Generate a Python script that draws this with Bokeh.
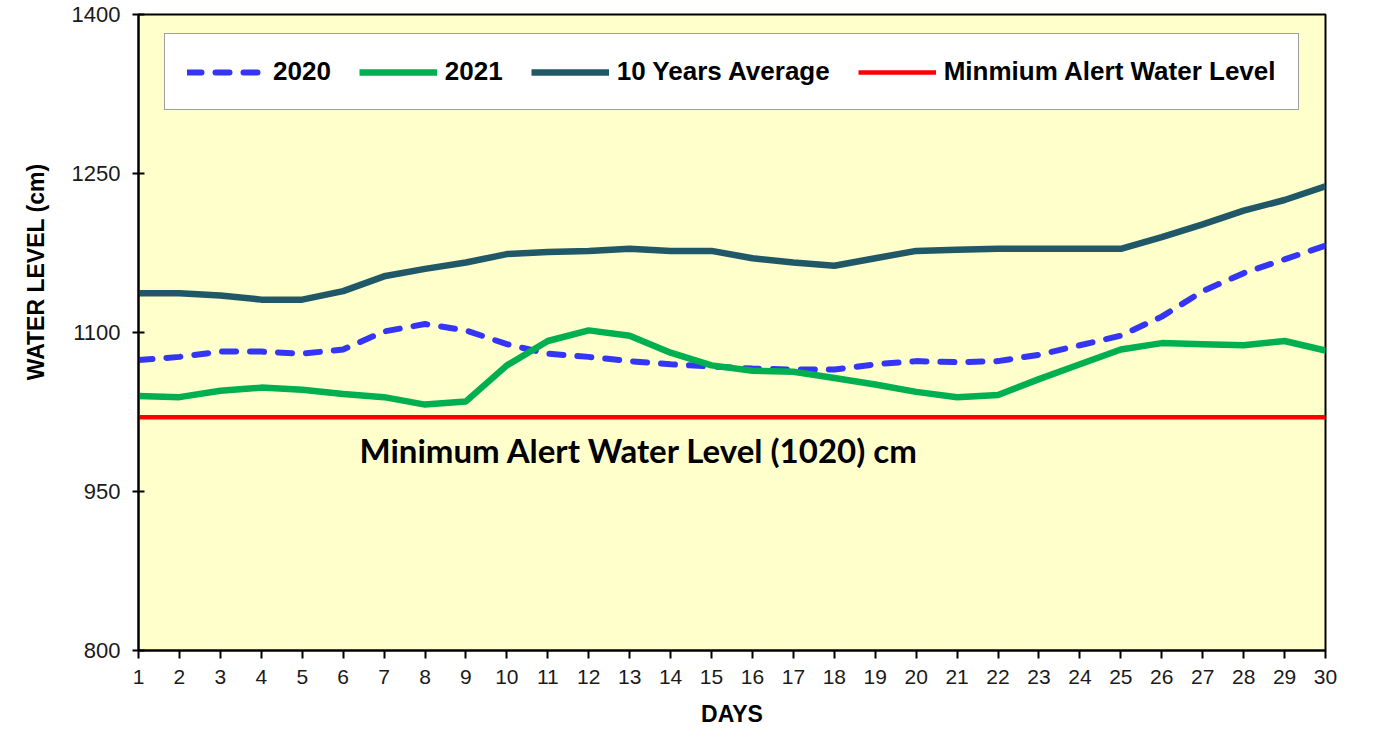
from bokeh.plotting import figure
from bokeh.models import Range1d, FixedTicker, Legend, LegendItem, Label, Title
from bokeh.embed import file_html
from bokeh.resources import INLINE

days = list(range(1, 31))
level_2020 = [1074, 1077, 1082, 1082, 1080, 1084, 1101, 1108, 1102, 1089,
              1080, 1077, 1073, 1070, 1068, 1066, 1065, 1065, 1070, 1073,
              1072, 1073, 1079, 1088, 1097, 1115, 1139, 1156, 1169, 1182]
level_2021 = [1040, 1039, 1045, 1048, 1046, 1042, 1039, 1032, 1035, 1069,
              1092, 1102, 1097, 1081, 1069, 1064, 1063, 1057, 1051, 1044,
              1039, 1041, 1056, 1070, 1084, 1090, 1089, 1088, 1092, 1083]
avg_10y = [1137, 1137, 1135, 1131, 1131, 1139, 1153, 1160, 1166, 1174,
           1176, 1177, 1179, 1177, 1177, 1170, 1166, 1163, 1170, 1177,
           1178, 1179, 1179, 1179, 1179, 1190, 1202, 1215, 1225, 1238]
alert_level = 1020
y_ticks = [800, 950, 1100, 1250, 1400]
series_names = ["2020", "2021", "10 Years Average", "Minmium Alert Water Level"]
annotation = "Minimum Alert Water  Level (1020) cm"
y_title = "WATER LEVEL (cm)"
x_title = "DAYS"

p = figure(width=1359, height=730, output_backend="svg", toolbar_location=None,
           x_range=Range1d(1, 30), y_range=Range1d(800, 1400),
           min_border_left=137, min_border_right=34, min_border_top=14,
           min_border_bottom=80)
p.background_fill_color = "#FFFFCC"
p.border_fill_color = "white"
p.outline_line_color = "black"
p.outline_line_width = 2
p.xgrid.visible = False
p.ygrid.visible = False

# axes
p.xaxis.ticker = FixedTicker(ticks=days)
p.yaxis.ticker = FixedTicker(ticks=y_ticks)
for ax in (p.xaxis, p.yaxis):
    ax.axis_line_color = "black"
    ax.axis_line_width = 2
    ax.major_tick_line_color = "black"
    ax.major_tick_line_width = 2
    ax.minor_tick_line_color = None
    ax.major_label_text_color = "#1a1a1a"
    ax.major_label_text_font = "Liberation Sans"
    ax.axis_label_text_font_style = "bold"
    ax.axis_label_text_color = "black"
    ax.axis_label_text_font = "Liberation Sans"
p.yaxis.major_tick_in = 6
p.yaxis.major_tick_out = 6
p.xaxis.major_tick_in = 0
p.xaxis.major_tick_out = 8
p.yaxis.major_label_text_font_size = "22px"
p.yaxis.major_label_standoff = 12
p.xaxis.major_label_text_font_size = "21px"
p.xaxis.major_label_standoff = 11
p.xaxis.axis_label = x_title
p.xaxis.axis_label_text_font_size = "23px"
p.xaxis.axis_label_standoff = 14

# y-axis title, placed higher along the axis as in the reference
p.add_layout(Title(text=y_title, align="right", offset=149, standoff=40,
                   text_font="Liberation Sans", text_font_style="bold",
                   text_font_size="23px", text_color="black"), "left")

# lines
r_2020 = p.line(days, level_2020, line_color="#3535F5", line_width=6,
                line_dash="14 14", line_cap="round", line_join="round")
r_2021 = p.line(days, level_2021, line_color="#00B050", line_width=6.5,
                line_join="round")
r_avg = p.line(days, avg_10y, line_color="#215868", line_width=6.5,
               line_join="round")
r_alert = p.line([days[0], days[-1]], [alert_level, alert_level],
                 line_color="#FF0000", line_width=4.5)

legend = Legend(items=[LegendItem(label=series_names[0], renderers=[r_2020]),
                       LegendItem(label=series_names[1], renderers=[r_2021]),
                       LegendItem(label=series_names[2], renderers=[r_avg]),
                       LegendItem(label=series_names[3], renderers=[r_alert])],
                orientation="horizontal", location=(26, 540), margin=0,
                padding=22, spacing=28, glyph_width=78, glyph_height=28,
                label_standoff=8, label_text_font="Liberation Sans",
                label_text_font_style="bold", label_text_font_size="26px",
                label_text_color="black", background_fill_color="white",
                background_fill_alpha=1.0, border_line_color="#404040",
                border_line_width=1.5)
p.add_layout(legend, "center")

p.add_layout(Label(x=6.4, y=989, text=annotation, text_baseline="middle",
                   text_font="Lato", text_font_style="bold",
                   text_font_size="33px", text_color="black"))

open("out.html", "w").write(file_html(p, INLINE))
